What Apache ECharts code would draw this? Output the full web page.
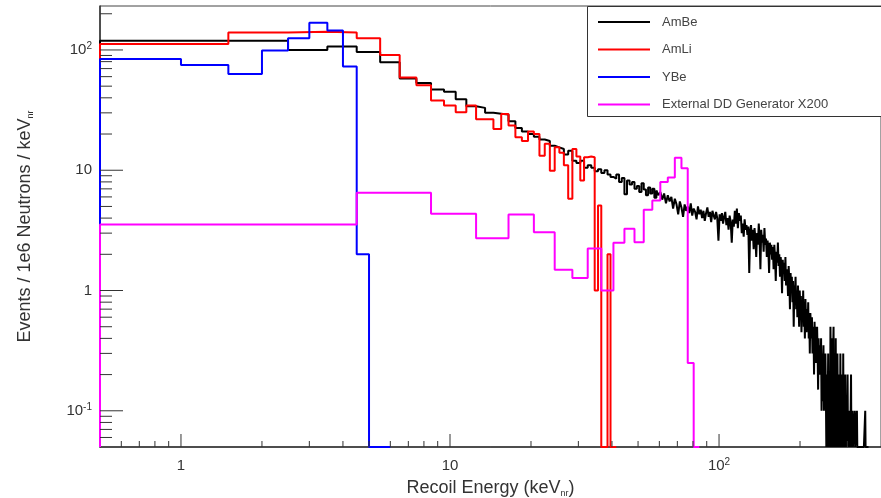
<!DOCTYPE html>
<html>
<head>
<meta charset="utf-8">
<script src="https://cdn.jsdelivr.net/npm/echarts@6/dist/echarts.min.js"></script>
<style>
html,body{margin:0;padding:0;background:#fff;}
#c{width:881px;height:498px;}
</style>
</head>
<body>
<div id="c"></div>
<script>
// ---------------- data ----------------
const X_MIN = 0.5, X_MAX = 400;
const Y_MIN = 0.05, Y_MAX = 232;

const seriesNames = ['AmBe', 'AmLi', 'YBe', 'External DD Generator X200'];

// AmBe : 1 keV bins starting at 0.5 keV (bin centres 1,2,3,...)
const amBeStart = 0.5, amBeWidth = 1;
const amBeValues = [
  119,119,100,107,96,79,58,53,47,45,
  39,34,33,30,29.5,29,25.5,22.5,21,20,
  19,18,17.5,16,15.5,15,13.5,14.5,12,11.5,
  12,10.5,11,10.5,9.8,10.2,9.5,10,9.2,8.8,
  8.5,9.2,8,8.6,6.3,8.2,7.6,8,7,7.4,
  6.6,7.8,6.9,6.2,7.2,6.4,7,5.9,6.8,6.2,
  6.6,5.7,6.4,5.3,6.2,5.5,6,4.8,5.8,5.2,
  4.3,5.5,4.9,4.1,5.2,4.6,5,4.4,5.3,4.2,
  4.8,4.5,3.9,5,4.3,4.7,4,4.6,3.8,4.4,
  4.9,4.1,4.5,3.7,4.6,4.2,3.9,4.5,4,2.6,
  4.3,3.8,4.4,3.6,4.1,4.5,3.5,4,3.2,4.2,
  3.7,2.5,3.9,3.4,4.6,3.6,4.8,3.3,4.4,3.8,
  4.2,3,3.6,2.8,3.9,3.2,3.5,2.9,3.4,1.4,
  3.1,3.5,2.6,3.2,2.2,3.3,2.7,1.9,3,2.4,
  3.6,2.7,1.5,3.2,2.5,2.9,2.1,3.3,2.4,2.7,
  1.9,2.6,2.2,1.4,2.5,2,2.4,1.8,2.3,1.5,
  2.4,1.9,1.2,2.1,1.7,2.5,1.6,2,1.3,1.9,
  1.6,0.95,1.8,1.4,1.7,1.2,1.9,1.1,1.5,1.3,
  0.9,1.6,1.2,0.7,1.4,1,1.3,0.8,1.2,0.5,
  1.1,0.9,1.3,0.7,1,0.6,1.1,0.8,0.5,1,
  0.7,0.9,0.45,0.8,0.6,1,0.5,0.75,0.4,0.85,
  0.6,0.45,0.7,0.5,0.8,0.4,0.6,0.3,0.65,0.5,
  0.4,0.6,0.3,0.5,0.45,0.2,0.55,0.35,0.5,0.25,
  0.4,0.5,0.3,0.15,0.4,0.25,0.2,0.35,0.2,0.4,
  0.1,0.3,0.12,0.25,0.35,0.1,0.2,0.15,0.3,0.15,
  0,0.2,0,0.1,0.3,0,0.2,0.1,0,0.5,
  0.2,0,0.4,0.1,0,0.3,0.5,0,0.2,0.1,
  0,0.4,0,0.2,0,0.3,0.1,0,0.2,0,
  0.1,0,0.3,0,0,0.2,0,0.1,0,0.3,
  0,0,0.1,0,0.2,0,0,0.1,0,0,
  0.2,0,0,0.1,0,0,0.1,0,0,0.2,
  0,0,0,0.1,0,0,0,0,0,0.1,
  0,0,0,0,0,0.1,0,0,0,0,
  0,0,0,0,0,0,0,0,0,0,
  0,0,0,0,0,0,0,0,0,0.1,
  0,0,0,0,0,0,0,0,0,0
];

// AmLi : 1 keV bins starting at 0.5 keV
const amLiStart = 0.5, amLiWidth = 1;
const amLiValues = [
  112,140,142,140,125,91,59,51,38,34.5,
  30.4,34.5,26.5,26.5,22,29.3,23.5,18.8,17.5,21,
  20,13.2,16.6,9.9,15.5,14,11,5.8,15,13,
  8.2,12.8,13,12.8,1.0,5.1,0,0,2.0,0,0
];

// YBe : 0.5 keV bins starting at 0.5 keV
const yBeStart = 0.5, yBeWidth = 0.5;
const yBeValues = [84,75,63,99,125,168,145,73,2.0,0,0];

// External DD generator (x200) : 4 keV bins starting at 0.5 keV
const ddStart = 0.5, ddWidth = 4;
const ddValues = [
  3.54,6.49,4.34,2.72,4.28,3.05,1.49,1.27,2.23,1.0,
  2.5,3.26,2.52,4.7,5.6,8.0,8.7,12.7,10.4,0.25,0
];

// axis ticks
const xMajorTicks = [1, 10, 100];
const xMinorTicks = [0.6,0.7,0.8,0.9, 2,3,4,5,6,7,8,9, 20,30,40,50,60,70,80,90, 200,300];
const yMajorTicks = [0.1, 1, 10, 100];
const yMinorTicks = [0.06,0.07,0.08,0.09, 0.2,0.3,0.4,0.5,0.6,0.7,0.8,0.9,
                     2,3,4,5,6,7,8,9, 20,30,40,50,60,70,80,90, 200];

// ---------------- styles ----------------
const FONT = '"Liberation Sans", Arial, Helvetica, sans-serif';
const TEXT = '#333';
const seriesColors = ['#000000', '#ff0000', '#0000ff', '#ff00ff'];
const X_MAJOR_LEN = 13, X_MINOR_LEN = 6, Y_MAJOR_LEN = 23, Y_MINOR_LEN = 12;

// build histogram outline (ROOT style step, dropping to the axis at both ends)
function histPoints(start, width, values) {
  const pts = [[start, Y_MIN]];
  values.forEach((v, i) => {
    const lo = start + i * width, hi = start + (i + 1) * width;
    const y = v > 0 ? v : Y_MIN;
    pts.push([lo, y], [hi, y]);
  });
  pts.push([start + values.length * width, Y_MIN]);
  return pts;
}

function powLabel(v) {
  const l = Math.log10(v);
  const r = Math.round(l);
  if (Math.abs(l - r) > 1e-6) return '';
  if (r === 0) return '{n|1}';
  if (r === 1) return '{n|10}';
  return '{n|10}{sup|' + r + '}';
}

const labelRich = {
  n: { fontSize: 15, lineHeight: 18, color: TEXT, fontFamily: FONT },
  sup: { fontSize: 10, lineHeight: 10, verticalAlign: 'top', color: TEXT, fontFamily: FONT }
};
const titleRich = {
  t: { fontSize: 18, lineHeight: 20, color: TEXT, fontFamily: FONT },
  s: { fontSize: 9, lineHeight: 8, verticalAlign: 'bottom', color: TEXT, fontFamily: FONT }
};

function tickSeries(values, axis, length) {
  return {
    type: 'custom', silent: true, z: 6, clip: false,
    data: values.map(v => axis === 'x' ? [v, Y_MIN] : [X_MIN, v]),
    renderItem: (params, api) => {
      const p = api.coord([api.value(0), api.value(1)]);
      const shape = axis === 'x'
        ? { x1: p[0], y1: p[1], x2: p[0], y2: p[1] - length }
        : { x1: p[0], y1: p[1], x2: p[0] + length, y2: p[1] };
      return { type: 'line', shape: shape, style: { stroke: '#333', lineWidth: 1 } };
    }
  };
}

const histData = [
  histPoints(amBeStart, amBeWidth, amBeValues),
  histPoints(amLiStart, amLiWidth, amLiValues),
  histPoints(yBeStart, yBeWidth, yBeValues),
  histPoints(ddStart, ddWidth, ddValues)
];

const histSeries = seriesNames.map((name, i) => ({
  name: name,
  type: 'line',
  data: histData[i],
  symbol: 'none',
  showSymbol: false,
  clip: true,
  z: 2 + i * 0.01,
  lineStyle: { color: seriesColors[i], width: 2 },
  itemStyle: { color: seriesColors[i] },
  emphasis: { disabled: true }
}));

const chart = echarts.init(document.getElementById('c'), null, { renderer: 'canvas' });
chart.setOption({
  animation: false,
  backgroundColor: '#ffffff',
  textStyle: { fontFamily: FONT },
  grid: { left: 100, right: 0, top: 6, bottom: 51, show: true, borderColor: '#444', borderWidth: 1,
          containLabel: false, outerBoundsMode: 'none' },
  xAxis: {
    type: 'log', logBase: 10, min: X_MIN, max: X_MAX,
    name: '{t|Recoil Energy (keV}{s|nr}{t|)}',
    nameLocation: 'middle', nameGap: 31,
    nameTextStyle: { rich: titleRich },
    axisLine: { show: true, onZero: false, lineStyle: { color: '#333', width: 1.5 } },
    axisTick: { show: false }, minorTick: { show: false },
    splitLine: { show: false }, minorSplitLine: { show: false },
    axisLabel: { formatter: powLabel, margin: 10, rich: labelRich, showMinLabel: false, showMaxLabel: false }
  },
  yAxis: {
    type: 'log', logBase: 10, min: Y_MIN, max: Y_MAX,
    name: '{t|Events / 1e6 Neutrons / keV}{s|nr}',
    nameLocation: 'middle', nameGap: 65, nameRotate: 90,
    nameTextStyle: { rich: titleRich },
    axisLine: { show: true, onZero: false, lineStyle: { color: '#333', width: 1.5 } },
    axisTick: { show: false }, minorTick: { show: false },
    splitLine: { show: false }, minorSplitLine: { show: false },
    axisLabel: { formatter: powLabel, margin: 8, rich: labelRich, showMinLabel: false, showMaxLabel: false }
  },
  legend: {
    data: seriesNames,
    orient: 'vertical', left: 593, top: 10,
    icon: 'rect', itemWidth: 52, itemHeight: 2, itemGap: 13.5,
    selectedMode: false,
    textStyle: { fontSize: 13, color: '#444', lineHeight: 14, fontFamily: FONT, padding: [0, 0, 0, 7] }
  },
  graphic: [{
    type: 'rect', z: 3,
    shape: { x: 587.5, y: 6.5, width: 300, height: 110 },
    style: { fill: '#ffffff', stroke: '#333', lineWidth: 1 }
  }],
  series: histSeries.concat([
    tickSeries(xMajorTicks, 'x', X_MAJOR_LEN),
    tickSeries(xMinorTicks, 'x', X_MINOR_LEN),
    tickSeries(yMajorTicks, 'y', Y_MAJOR_LEN),
    tickSeries(yMinorTicks, 'y', Y_MINOR_LEN)
  ])
});
</script>
</body>
</html>
